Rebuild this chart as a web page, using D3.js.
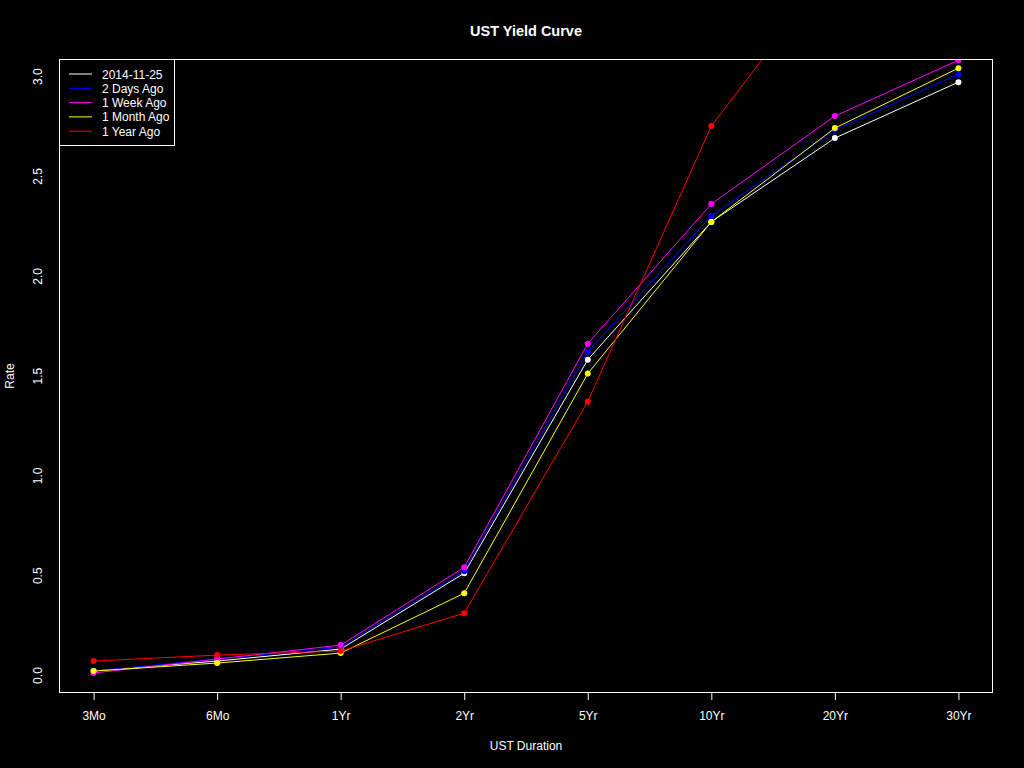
<!DOCTYPE html>
<html>
<head>
<meta charset="utf-8">
<script src="https://cdn.jsdelivr.net/npm/d3@7"></script>
<style>
html, body { margin: 0; padding: 0; background: #000; }
svg { display: block; }
text { font-family: "Liberation Sans", Arial, sans-serif; fill: #fff; }
</style>
</head>
<body>
<svg id="chart" width="1024" height="768"></svg>
<script>
// ---- data ----
const durations = ["3Mo", "6Mo", "1Yr", "2Yr", "5Yr", "10Yr", "20Yr", "30Yr"];
const seriesNames = ["2014-11-25", "2 Days Ago", "1 Week Ago", "1 Month Ago", "1 Year Ago"];
const seriesColors = ["#ffffff", "#0000ff", "#ff00ff", "#ffff00", "#ff0000"];
const today      = [0.02, 0.07, 0.13, 0.51, 1.58, 2.27, 2.69, 2.97];
const twoDaysAgo = [0.02, 0.08, 0.14, 0.52, 1.62, 2.30, 2.73, 3.01];
const oneWeekAgo = [0.01, 0.08, 0.15, 0.54, 1.66, 2.36, 2.80, 3.08];
const oneMonthAgo= [0.02, 0.06, 0.11, 0.41, 1.51, 2.27, 2.74, 3.04];
const oneYearAgo = [0.07, 0.10, 0.12, 0.31, 1.37, 2.75, 3.56, 3.83];
const yTicks = [0.0, 0.5, 1.0, 1.5, 2.0, 2.5, 3.0];
const yDomain = [-0.09, 3.086];
const chartTitle = "UST Yield Curve";
const xTitle = "UST Duration";
const yTitle = "Rate";

const seriesValues = [today, twoDaysAgo, oneWeekAgo, oneMonthAgo, oneYearAgo];

(function () {
// ---- layout ----
const svg = d3.select("#chart");
const pL = 59, pR = 993, pT = 59, pB = 693;

svg.append("rect").attr("width", 1024).attr("height", 768).attr("fill", "#000");

const x = d3.scalePoint().domain(durations).range([pL, pR]).padding(0.28);
const y = d3.scaleLinear().domain(yDomain).range([pB, pT]);

svg.append("defs").append("clipPath").attr("id", "plotclip")
  .append("rect").attr("x", pL).attr("y", pT)
  .attr("width", pR - pL).attr("height", pB - pT);

// series
const plot = svg.append("g").attr("clip-path", "url(#plotclip)");
const line = d3.line().x((d, i) => x(durations[i])).y(d => y(d));
seriesValues.forEach((vals, si) => {
  plot.append("path").attr("d", line(vals))
    .attr("fill", "none").attr("stroke", seriesColors[si]).attr("stroke-width", 1);
  plot.selectAll(null).data(vals).enter().append("circle")
    .attr("cx", (d, i) => x(durations[i])).attr("cy", d => y(d))
    .attr("r", 3).attr("fill", seriesColors[si]);
});

// box
svg.append("rect").attr("x", pL + 0.5).attr("y", pT + 0.5)
  .attr("width", pR - pL - 1).attr("height", pB - pT - 1)
  .attr("fill", "none").attr("stroke", "#fff").attr("stroke-width", 1);

// x axis
const xAxis = svg.append("g").attr("transform", `translate(0,${pB})`)
  .call(d3.axisBottom(x).tickSize(7).tickPadding(11));
xAxis.select(".domain").remove();
xAxis.selectAll("line").attr("stroke", "#fff");
xAxis.selectAll("text").attr("fill", "#fff").style("font-size", "12px")
  .style("font-family", "'Liberation Sans', Arial, sans-serif");

// y axis (labels only, rotated)
const yAxis = svg.append("g").attr("transform", `translate(${pL},0)`)
  .call(d3.axisLeft(y).tickValues(yTicks).tickFormat(d3.format(".1f")).tickSize(0));
yAxis.select(".domain").remove();
yAxis.selectAll("text")
  .attr("transform", "rotate(-90)")
  .attr("x", 0).attr("y", -17).attr("dy", 0)
  .attr("text-anchor", "middle")
  .attr("fill", "#fff").style("font-size", "12px")
  .style("font-family", "'Liberation Sans', Arial, sans-serif");

// titles
svg.append("text").attr("x", (pL + pR) / 2).attr("y", 36)
  .attr("text-anchor", "middle").style("font-size", "14.5px").style("font-weight", "bold")
  .text(chartTitle);
svg.append("text").attr("x", (pL + pR) / 2).attr("y", 750)
  .attr("text-anchor", "middle").style("font-size", "12px").text(xTitle);
svg.append("text").attr("transform", `translate(14,${(pT + pB) / 2}) rotate(-90)`)
  .attr("text-anchor", "middle").style("font-size", "12px").text(yTitle);

// legend
const legend = svg.append("g");
legend.append("rect").attr("x", pL + 0.5).attr("y", pT + 0.5)
  .attr("width", 115).attr("height", 86)
  .attr("fill", "#000").attr("stroke", "#fff").attr("stroke-width", 1);
seriesNames.forEach((name, i) => {
  const ly = 74 + i * 14.3;
  legend.append("line").attr("x1", 69).attr("x2", 92).attr("y1", ly).attr("y2", ly)
    .attr("stroke", seriesColors[i]).attr("stroke-width", 1);
  legend.append("text").attr("x", 102).attr("y", ly + 4.5)
    .style("font-size", "12px").text(name);
});
})();
</script>
</body>
</html>
